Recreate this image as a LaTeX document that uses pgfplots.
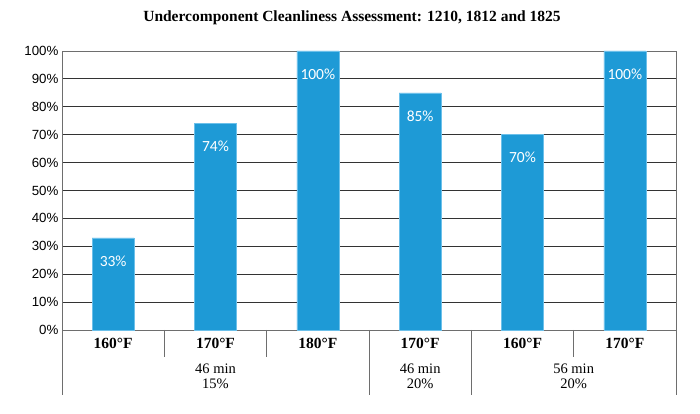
\documentclass[border=0pt]{standalone}
\usepackage{pgfplots}
\pgfplotsset{compat=1.18}
\usepackage{fontspec}
\setmainfont{Liberation Serif}
\newfontfamily\arial{Liberation Sans}
\newfontfamily\calibri{Carlito}
\usetikzlibrary{calc}
\definecolor{barblue}{HTML}{1E9AD6}
\definecolor{baredge}{HTML}{6CC0EA}
\definecolor{lineclr}{HTML}{6E6E6E}

\begin{document}
\begin{tikzpicture}
\begin{axis}[
	scale only axis,
	width=614pt, height=279pt,
	ybar, bar width=0.41,
	xmin=-0.5, xmax=5.5, ymin=0, ymax=100,
	clip=false,
	xtick={0,1,2,3,4,5},
	xticklabels={160°F,170°F,180°F,170°F,160°F,170°F},
	x tick label style={font=\bfseries\fontsize{15.5}{17}\selectfont},
	major x tick style={draw=none},
	ytick={0,10,...,100},
	yticklabel={\pgfmathprintnumber{\tick}\%},
	y tick label style={font=\arial\fontsize{13.3}{15}\selectfont},
	/pgf/number format/assume math mode=true,
	major y tick style={draw=none},
	ymajorgrids, grid style={black!80, line width=0.8pt},
	axis line style={lineclr, line width=0.8pt},
	title={Undercomponent Cleanliness Assessment: 1210, 1812 and 1825},
	title style={font=\bfseries\fontsize{15.5}{17}\selectfont, at={(0.5,1)}, anchor=center, yshift=27pt, xshift=-17pt},
	nodes near coords={\pgfmathprintnumber[fixed,precision=0]{\pgfplotspointmeta}\%},
	every node near coord/.append style={font=\calibri\fontsize{15.5}{17}\selectfont, text=white, anchor=center, yshift=-23pt},
]
\addplot[fill=barblue, draw=baredge, line width=0.5pt] coordinates {(0,33) (1,74) (2,100) (3,85) (4,70) (5,100)};

\coordinate (pbl) at (rel axis cs:0,0);
\coordinate (ptr) at (rel axis cs:1,1);
\pgfplotsinvokeforeach{0.5,1.5,4.5}{
	\draw[lineclr, line width=0.8pt] (axis cs:#1,0) -- ++(0pt,-27pt);
}
\pgfplotsinvokeforeach{-0.5,2.5,3.5,5.5}{
	\draw[lineclr, line width=0.8pt] (axis cs:#1,0) -- ++(0pt,-65pt);
}
\node[align=center, font=\fontsize{14.5}{15}\selectfont, yshift=-46pt] at (axis cs:1,0) {46 min\\15\%};
\node[align=center, font=\fontsize{14.5}{15}\selectfont, yshift=-46pt] at (axis cs:3,0) {46 min\\20\%};
\node[align=center, font=\fontsize{14.5}{15}\selectfont, yshift=-46pt] at (axis cs:4.5,0) {56 min\\20\%};
\end{axis}
\path ($(pbl)+(-62pt,-84pt)$) rectangle ($(ptr)+(24pt,51pt)$);
\end{tikzpicture}
\end{document}
